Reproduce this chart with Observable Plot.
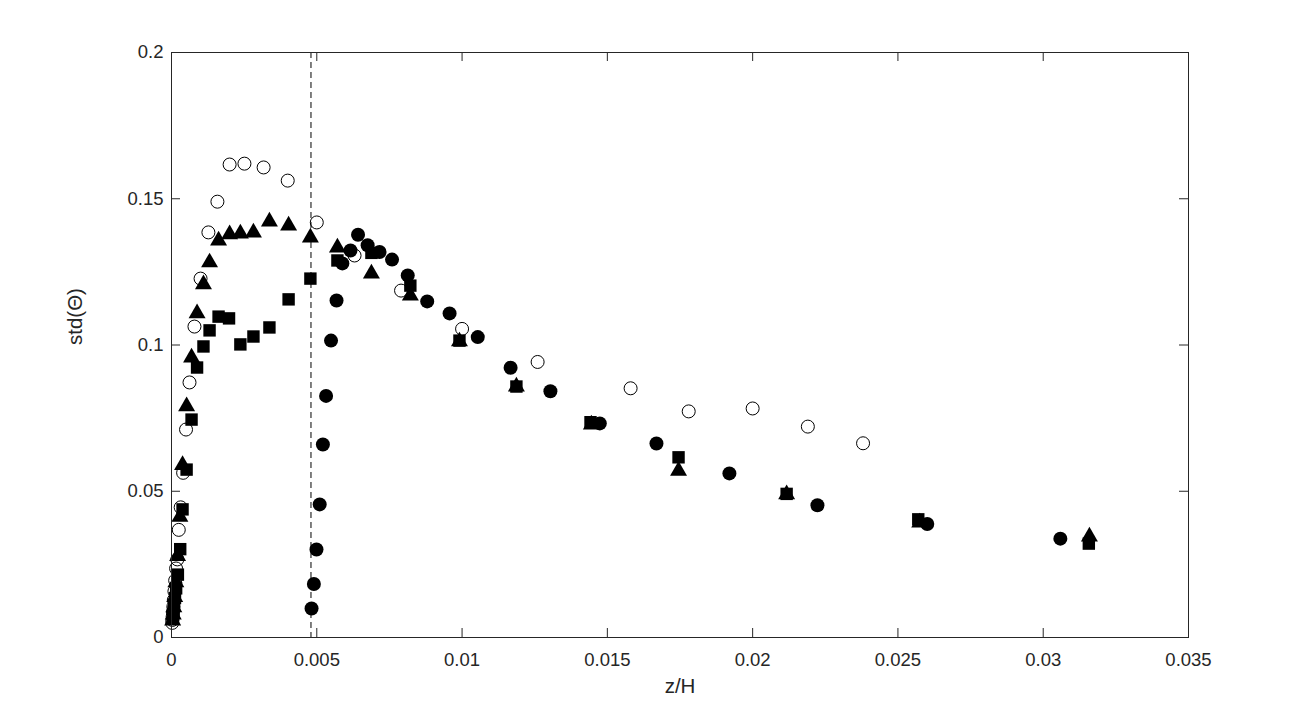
<!DOCTYPE html>
<html><head><meta charset="utf-8">
<script src="https://cdn.jsdelivr.net/npm/d3@7"></script>
<script src="https://cdn.jsdelivr.net/npm/@observablehq/plot@0.6"></script>
<style>body{margin:0;background:#fff;}</style>
</head><body><div id="chart"></div>
<script>
// Open circles
const openX = [0.000025, 0.0000316, 0.00004, 0.00005, 0.000063, 0.00008, 0.0001, 0.000126, 0.000158, 0.0002, 0.00025, 0.000316, 0.0004, 0.0005, 0.00062, 0.00079, 0.001, 0.00127, 0.00158, 0.002, 0.00251, 0.00317, 0.004, 0.005, 0.0063, 0.0079, 0.01, 0.0126, 0.0158, 0.0178, 0.02, 0.0219, 0.0238];
const openY = [0.005, 0.006, 0.0072, 0.0087, 0.0105, 0.0128, 0.0158, 0.0195, 0.0236, 0.0267, 0.0368, 0.0445, 0.0563, 0.0711, 0.0872, 0.1063, 0.1227, 0.1385, 0.149, 0.1617, 0.162, 0.1607, 0.1562, 0.1419, 0.1306, 0.1186, 0.1055, 0.0942, 0.0852, 0.0773, 0.0783, 0.0721, 0.0664];
// Filled triangles
const triX = [0.00004, 0.00006, 0.00008, 0.00011, 0.00015, 0.00021, 0.00029, 0.00038, 0.00052, 0.00069, 0.00088, 0.0011, 0.00131, 0.00162, 0.002, 0.00237, 0.00282, 0.00337, 0.00403, 0.00478, 0.00571, 0.00688, 0.00822, 0.00991, 0.01187, 0.01445, 0.01745, 0.02117, 0.02575, 0.03159];
const triY = [0.0065, 0.0085, 0.011, 0.0145, 0.0195, 0.0285, 0.0419, 0.0596, 0.0797, 0.0964, 0.1115, 0.1214, 0.1289, 0.1364, 0.1385, 0.1388, 0.1391, 0.1429, 0.1415, 0.1374, 0.134, 0.1251, 0.1176, 0.1019, 0.0865, 0.0735, 0.0577, 0.0496, 0.04, 0.0352];
// Filled squares
const sqX = [0.00005, 0.00007, 0.00009, 0.00012, 0.00016, 0.00022, 0.0003, 0.00038, 0.00052, 0.00069, 0.00088, 0.0011, 0.00131, 0.00162, 0.00198, 0.00237, 0.00282, 0.00337, 0.00403, 0.00478, 0.00571, 0.00688, 0.00822, 0.00991, 0.01187, 0.01442, 0.01745, 0.02117, 0.0257, 0.03157];
const sqY = [0.0068, 0.0088, 0.0108, 0.0135, 0.0168, 0.0215, 0.0302, 0.0438, 0.0574, 0.0745, 0.0923, 0.0995, 0.105, 0.1097, 0.1091, 0.1002, 0.1029, 0.106, 0.1156, 0.1227, 0.1289, 0.1315, 0.1203, 0.1015, 0.0858, 0.0736, 0.0616, 0.0491, 0.0404, 0.0321];
// Filled circles
const dotX = [0.00482, 0.0049, 0.00499, 0.0051, 0.00521, 0.00532, 0.00549, 0.00568, 0.00588, 0.00616, 0.00642, 0.00675, 0.00716, 0.00759, 0.00813, 0.0088, 0.00957, 0.01054, 0.01167, 0.01304, 0.01474, 0.01669, 0.0192, 0.02223, 0.02601, 0.03059];
const dotY = [0.0099, 0.0183, 0.0301, 0.0455, 0.066, 0.0826, 0.1015, 0.1152, 0.1279, 0.1323, 0.1377, 0.1341, 0.1318, 0.1292, 0.1238, 0.1149, 0.1108, 0.1027, 0.0922, 0.0842, 0.0732, 0.0663, 0.0561, 0.0452, 0.0388, 0.0338];

const xTicks = [0, 0.005, 0.01, 0.015, 0.02, 0.025, 0.03, 0.035];
const yTicks = [0, 0.05, 0.1, 0.15, 0.2];
const dashedX = [0.0048];
const xLabel = "z/H";
const yLabel = "std(Θ)";

const rows = (xs, ys) => xs.map((x, i) => ({x, y: ys[i]}));

const W = 1313, H = 715, mL = 171, mR = 125, mT = 52, mB = 78;
const plotW = W - mL - mR, plotH = H - mT - mB;
const ink = "#262626";

const chart = Plot.plot({
  width: W, height: H,
  marginLeft: mL, marginRight: mR, marginTop: mT, marginBottom: mB,
  x: {domain: [0, 0.035]},
  y: {domain: [0, 0.2]},
  style: {fontFamily: "'Liberation Sans', Arial, sans-serif", fontSize: "18.5px", color: ink, background: "white"},
  marks: [
    Plot.ruleX(dashedX, {x: d => d, stroke: "black", strokeWidth: 1, strokeDasharray: "6,4"}),
    Plot.dot(rows(openX, openY), {x: "x", y: "y", symbol: "circle", r: 6.5, fill: "none", stroke: "black", strokeWidth: 1}),
    Plot.dot(rows(sqX, sqY), {x: "x", y: "y", symbol: "square", r: 7, fill: "black", stroke: "none"}),
    Plot.dot(rows(triX, triY), {x: "x", y: "y", symbol: "triangle", r: 6.3, fill: "black", stroke: "none", dy: 2}),
    Plot.dot(rows(dotX, dotY), {x: "x", y: "y", symbol: "circle", r: 7, fill: "black", stroke: "none"}),
    // inward ticks on all four sides
    Plot.tickX(xTicks, {x: d => d, insetTop: plotH - 9, stroke: ink}),
    Plot.tickX(xTicks, {x: d => d, insetBottom: plotH - 9, stroke: ink}),
    Plot.tickY(yTicks, {y: d => d, insetRight: plotW - 9, stroke: ink}),
    Plot.tickY(yTicks, {y: d => d, insetLeft: plotW - 9, stroke: ink}),
    Plot.frame({stroke: ink, strokeWidth: 1}),
    Plot.axisX(xTicks, {anchor: "bottom", tickSize: 0, tickPadding: 15, tickFormat: d => String(d), label: null, fill: ink, fontSize: 18.5}),
    Plot.axisY(yTicks, {anchor: "left", tickSize: 0, tickPadding: 8, tickFormat: d => String(d), label: null, fill: ink, fontSize: 18.5}),
    Plot.text([xLabel], {frameAnchor: "bottom", dy: 55, fontSize: 20.5, fill: ink}),
    Plot.text([yLabel], {frameAnchor: "left", dx: -96, rotate: -90, fontSize: 20.5, fill: ink})
  ]
});
document.getElementById("chart").appendChild(chart);
</script>
</body></html>
